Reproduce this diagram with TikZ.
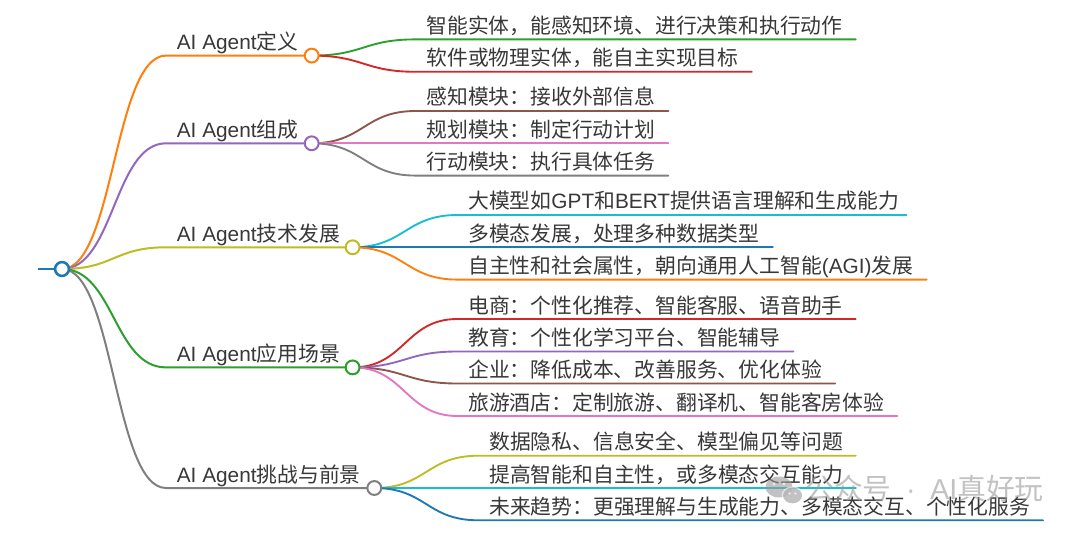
\documentclass[tikz,border=0pt]{standalone}
\usepackage{fontspec}
\setmainfont{Liberation Sans}
\newfontfamily\cjk{Noto Sans CJK SC}
\newfontfamily\latf{Liberation Sans}
\newcommand\la[1]{{\latf #1}}
\definecolor{cblue}{HTML}{1F77B4}
\definecolor{corange}{HTML}{FF7F0E}
\definecolor{cgreen}{HTML}{2CA02C}
\definecolor{cred}{HTML}{D62728}
\definecolor{cpurple}{HTML}{9467BD}
\definecolor{cbrown}{HTML}{8C564B}
\definecolor{cpink}{HTML}{E377C2}
\definecolor{cgray}{HTML}{7F7F7F}
\definecolor{colive}{HTML}{BCBD22}
\definecolor{ccyan}{HTML}{17BECF}
\definecolor{txt}{HTML}{383838}
\definecolor{wm}{HTML}{9A9A9A}
% leaf: name, parent coordinate, colour, y, text x, line end x, text
\newcommand\mmleaf[7]{%
  \coordinate (#1s) at ({#5-10.6},#4);
  \coordinate (#1e) at (#6,#4);
  \draw[lf,#3] (#2) .. controls +(52,0) and +(-52,0) .. (#1s) -- (#1e);
  \node[lbl] (#1) at (#5,{#4-6}) {#7};
}
\begin{document}
\begin{tikzpicture}[x=0.75pt,y=-0.75pt,
  lbl/.style={anchor=base west,inner sep=0pt,text=txt,font={\cjk\fontsize{15.6}{18}\selectfont}},
  lk/.style={line width=1.5pt,line cap=round},
  lf/.style={line width=1.4pt,line cap=round},
  dot/.style={circle,draw,fill=white,line width=1.5pt,inner sep=0pt,minimum size=10.4pt}]
\useasboundingbox (0,0) rectangle (1080,534);
\fill[white] (0,0) rectangle (1080,534);

% coordinates
\coordinate (c0) at (62,269);
\coordinate (stub) at (38,269);
\coordinate (c1) at (311.7,55.6);  \coordinate (s1) at (166,55.6);
\coordinate (c2) at (311.7,143.3); \coordinate (s2) at (166,143.3);
\coordinate (c3) at (352.6,247.3); \coordinate (s3) at (166,247.3);
\coordinate (c4) at (352.6,367.4); \coordinate (s4) at (166,367.4);
\coordinate (c5) at (374.3,488);   \coordinate (s5) at (166,488);

% level-1 links
\draw[line width=2.2pt,cblue] (stub) -- (c0);
\draw[lk,corange] (c0) .. controls +(52,0) and +(-52,0) .. (s1) -- (c1);
\draw[lk,cpurple] (c0) .. controls +(52,0) and +(-52,0) .. (s2) -- (c2);
\draw[lk,colive]  (c0) .. controls +(52,0) and +(-52,0) .. (s3) -- (c3);
\draw[lk,cgreen]  (c0) .. controls +(52,0) and +(-52,0) .. (s4) -- (c4);
\draw[lk,cgray]   (c0) .. controls +(52,0) and +(-52,0) .. (s5) -- (c5);

% level-1 labels
\node[lbl] (t1) at (176.6,49.6) {\la{AI Agent}定义};
\node[lbl] (t2) at (176.6,137.3) {\la{AI Agent}组成};
\node[lbl] (t3) at (176.6,241.3) {\la{AI Agent}技术发展};
\node[lbl] (t4) at (176.6,361.4) {\la{AI Agent}应用场景};
\node[lbl] (t5) at (176.6,482) {\la{AI Agent}挑战与前景};

% leaves
\mmleaf{a1}{c1}{cgreen}{39.4}{426.3}{855.8}{智能实体，能感知环境、进行决策和执行动作}
\mmleaf{a2}{c1}{cred}{71.8}{426.3}{751.8}{软件或物理实体，能自主实现目标}
\mmleaf{b1}{c2}{cbrown}{111}{426.3}{668.4}{感知模块：接收外部信息}
\mmleaf{b2}{c2}{cpink}{143.3}{426.3}{668.4}{规划模块：制定行动计划}
\mmleaf{b3}{c2}{cgray}{175.6}{426.3}{668.4}{行动模块：执行具体任务}
\mmleaf{d1}{c3}{ccyan}{215}{468}{906.4}{大模型如\la{GPT}和\la{BERT}提供语言理解和生成能力}
\mmleaf{d2}{c3}{cblue}{247.3}{468}{772.8}{多模态发展，处理多种数据类型}
\mmleaf{d3}{c3}{corange}{279.6}{468}{926.7}{自主性和社会属性，朝向通用人工智能\la{(AGI)}发展}
\mmleaf{e1}{c4}{cred}{319}{468}{855.8}{电商：个性化推荐、智能客服、语音助手}
\mmleaf{e2}{c4}{cpurple}{351.5}{468}{793.4}{教育：个性化学习平台、智能辅导}
\mmleaf{e3}{c4}{cbrown}{383.5}{468}{835.3}{企业：降低成本、改善服务、优化体验}
\mmleaf{e4}{c4}{cpink}{416}{468}{897.4}{旅游酒店：定制旅游、翻译机、智能客房体验}
\mmleaf{f1}{c5}{colive}{455.7}{489}{855.8}{数据隐私、信息安全、模型偏见等问题}
\mmleaf{f2}{c5}{ccyan}{488}{489}{855.8}{提高智能和自主性，或多模态交互能力}
\mmleaf{f3}{c5}{cblue}{520.3}{489}{1043}{未来趋势：更强理解与生成能力、多模态交互、个性化服务}

% circles
\node[dot,draw=cblue,line width=1.9pt] (n0) at (c0) {};
\node[dot,draw=corange] (n1) at (c1) {};
\node[dot,draw=cpurple] (n2) at (c2) {};
\node[dot,draw=colive] (n3) at (c3) {};
\node[dot,draw=cgreen] (n4) at (c4) {};
\node[dot,draw=cgray] (n5) at (c5) {};

% watermark
\begin{scope}[opacity=0.6]
\fill[wm] (779,487) ellipse [x radius=13.5, y radius=10.5];
\fill[white] (792.5,495.5) ellipse [x radius=11, y radius=9.2];
\fill[wm] (792.5,495.5) ellipse [x radius=9.5, y radius=7.8];
\fill[white] (774,484) circle [radius=1.7] (784,484) circle [radius=1.7];
\fill[white] (789.5,493.5) circle [radius=1.3] (795.5,493.5) circle [radius=1.3];
\node[anchor=base west,inner sep=0pt,text=wm,font={\cjk\fontsize{21.6}{24}\selectfont}] (wmk) at (805,499)
  {公众号\hspace{0.5em}\la{·}\hspace{0.5em}\la{AI}真好玩};
\end{scope}
\end{tikzpicture}
\end{document}
